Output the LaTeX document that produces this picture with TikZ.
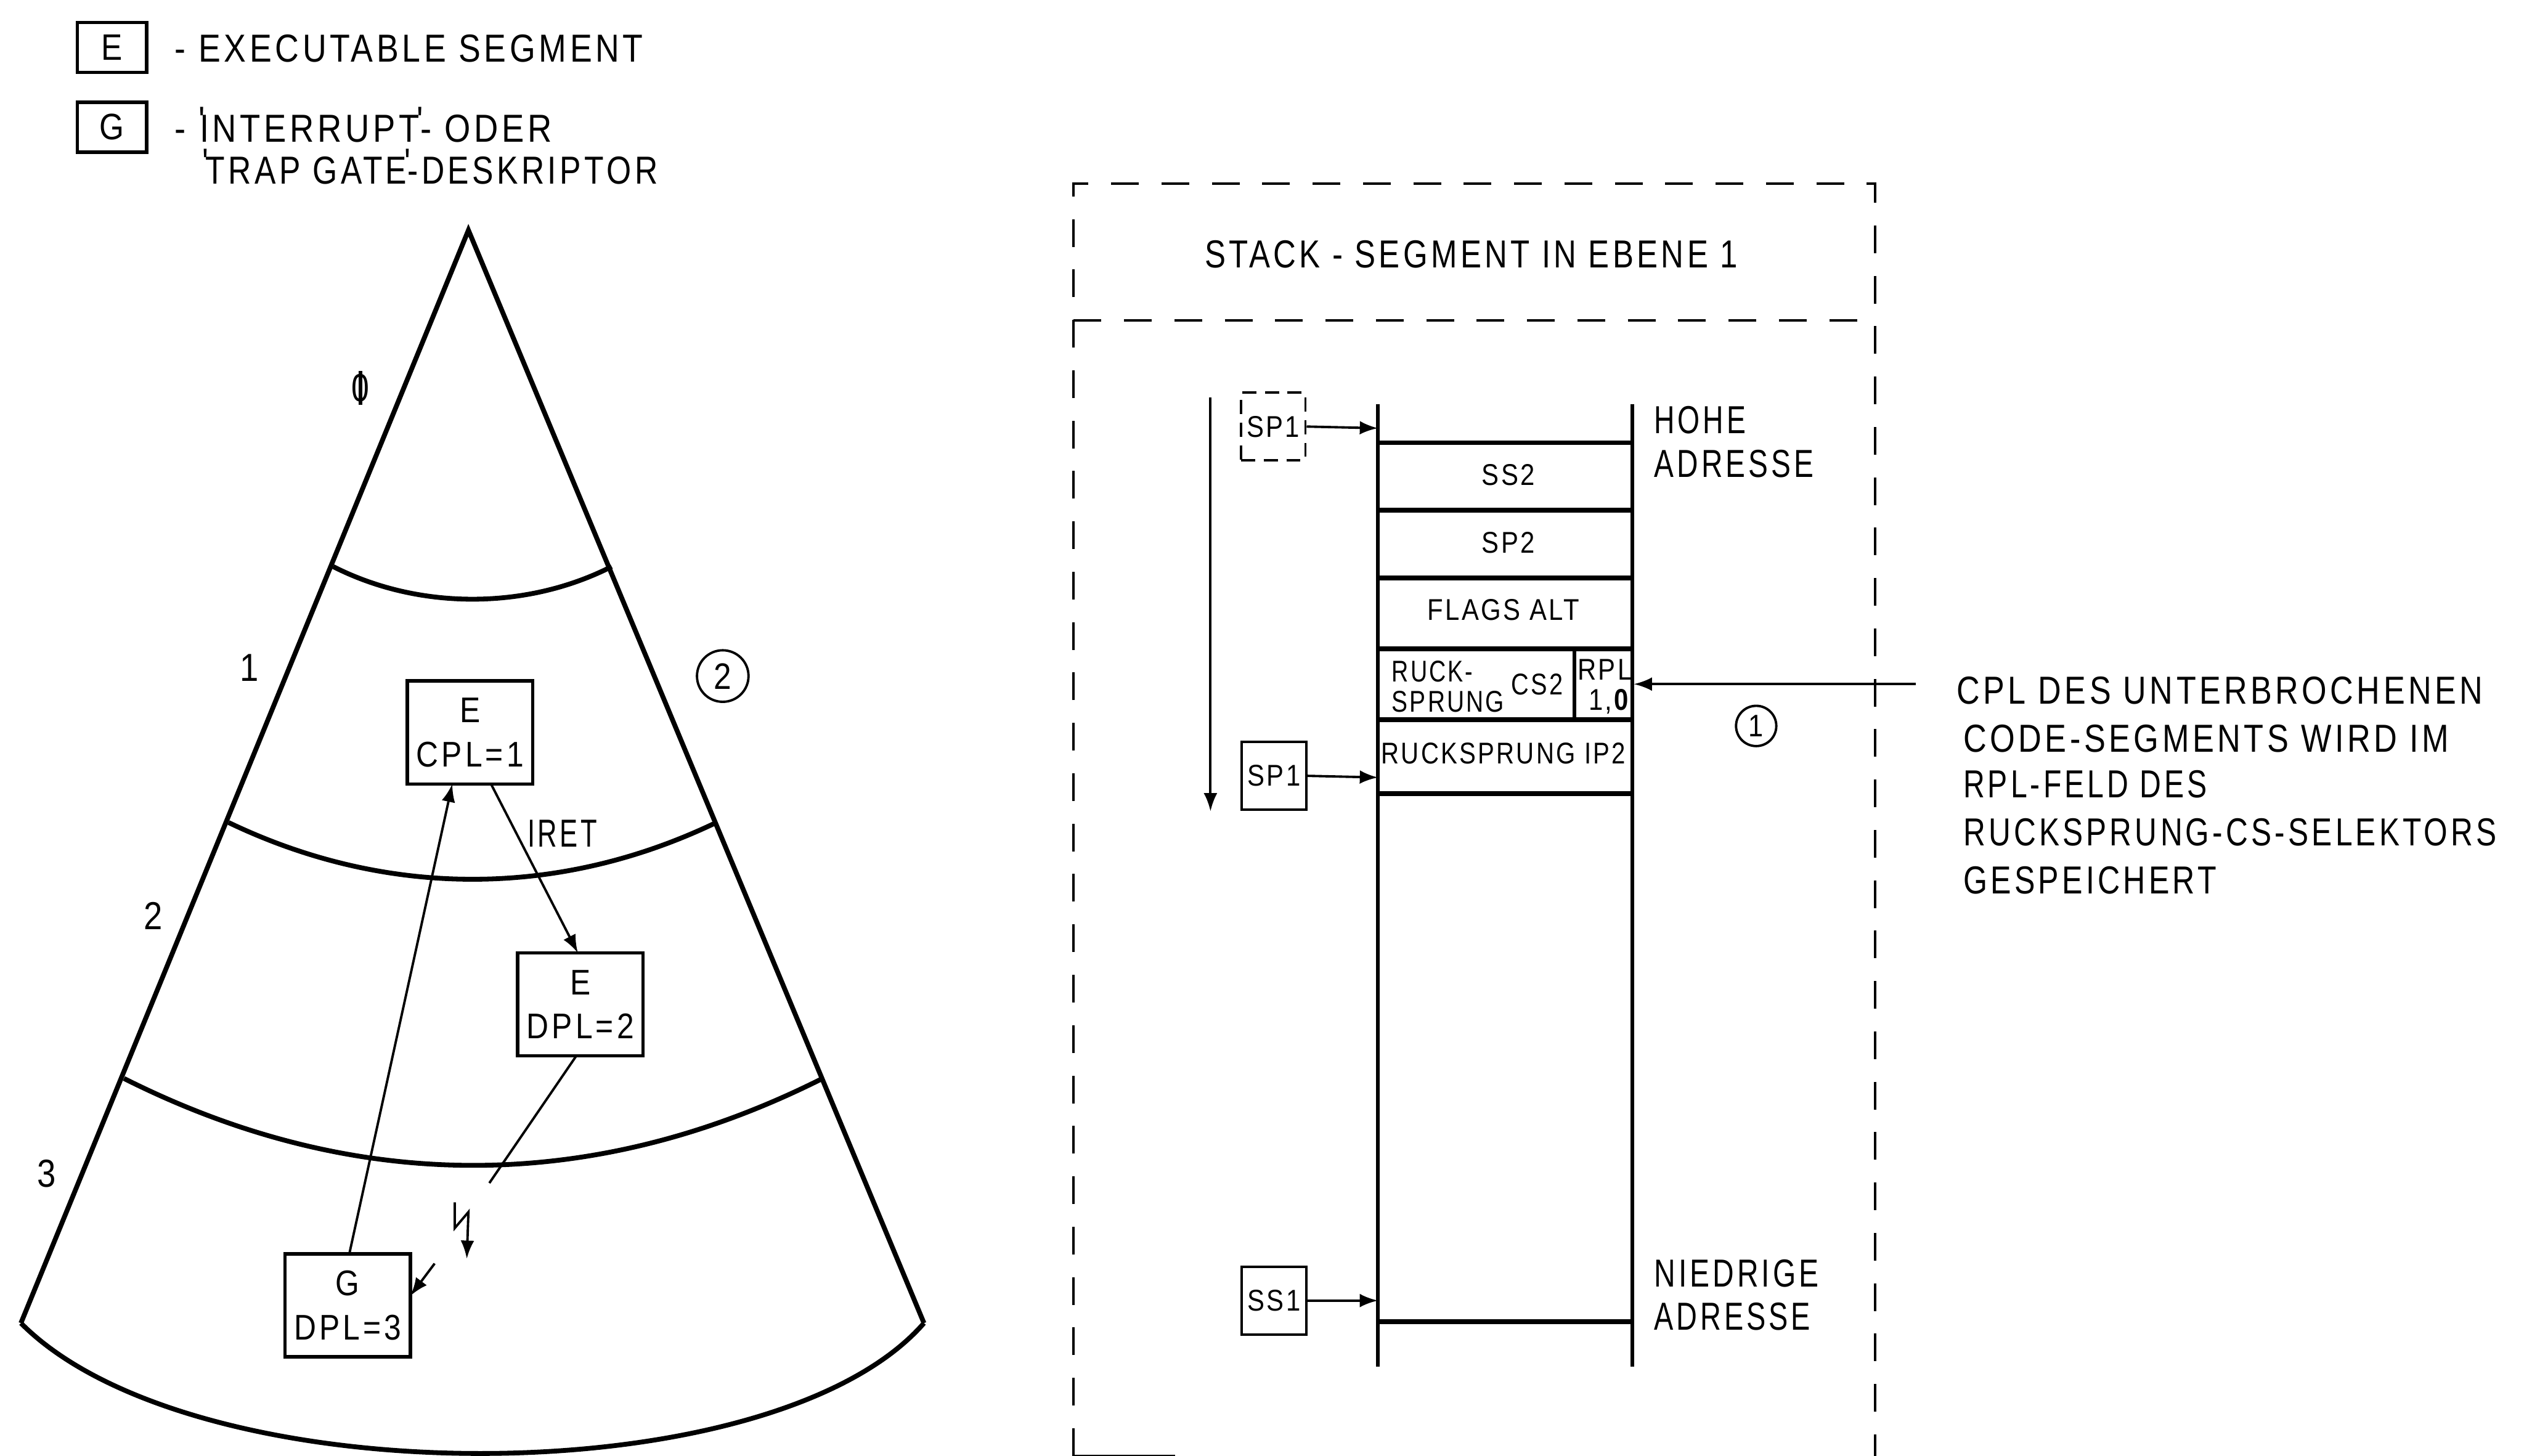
\documentclass[tikz,border=0pt]{standalone}
\usepackage{fontspec}
\usetikzlibrary{arrows.meta}
\setmainfont{Liberation Sans}[FakeStretch=0.86,LetterSpace=9]
\newfontfamily\tinyf{Liberation Sans}[FakeStretch=0.86,LetterSpace=7]
\newfontfamily\plainf{Liberation Sans}[FakeStretch=0.86,LetterSpace=9]
\newcommand{\nar}[2]{\scalebox{#1}[1]{#2}}
\newcommand{\qt}{\raisebox{1.4pt}{'}}
\tikzset{
  thin line/.style={line width=0.42pt,black},
  wall/.style={line width=0.65pt,black},
  rule line/.style={line width=0.85pt,black},
  dash line/.style={line width=0.42pt,black,dash pattern=on 4.9pt off 4pt},
  tip/.style={-{Latex[length=3.2pt,width=2.4pt]}},
  bigtxt/.style={font=\fontsize{6.9}{8}\selectfont,inner sep=0pt,anchor=west},
  lbl/.style={font=\fontsize{6.9}{8}\selectfont,inner sep=0pt},
  smalltxt/.style={font=\tinyf\fontsize{5.3}{6}\selectfont,inner sep=0pt},
  boxA/.style={draw,line width=0.6pt,minimum width=0.78cm,minimum height=0.64cm,align=center,inner sep=0pt,font=\fontsize{6.3}{7.8}\selectfont},
  legendbox/.style={draw,line width=0.6pt,minimum width=0.43cm,minimum height=0.31cm,inner sep=0pt,font=\fontsize{6.5}{8}\selectfont},
  spbox/.style={draw,line width=0.45pt,minimum width=0.4cm,minimum height=0.42cm,inner sep=0pt,font=\tinyf\fontsize{5.3}{6}\selectfont},
  ringmark/.style={draw,circle,line width=0.42pt,inner sep=0pt,font=\fontsize{6.5}{8}\selectfont}
}
\begin{document}
\begin{tikzpicture}[x=0.01cm,y=-0.01cm]
\useasboundingbox (0,0) rectangle (1568,904.5);
% legend
\node[legendbox] (legE) at (69.5,29.5) {E};
\node[legendbox] (legG) at (69.5,79) {G};
\node[bigtxt] (t1) at (108,30) {\nar{0.985}{- EXECUTABLE SEGMENT}};
\node[bigtxt] (t2) at (108,77.5) {\plainf\nar{0.998}{- \qt\kern-1pt INTERRUPT\kern-.5pt\qt\kern-.5pt- ODER}};
\node[bigtxt] (t3) at (125,103.5) {\plainf\nar{0.947}{\qt\kern-.5pt TRAP GATE\kern-.5pt\qt\kern-.5pt-DESKRIPTOR}};
% wedge
\coordinate (apex) at (291,143);
\coordinate (bl) at (13,822);
\coordinate (br) at (574,822);
\draw[rule line,line join=miter] (bl) -- (apex) -- (br);
\draw[rule line] (bl) .. controls (120,930) and (480,930) .. (br);
\draw[rule line] (207,352) .. controls (260,379) and (327,379) .. (380,352);
\draw[rule line] (142,511) .. controls (240,558) and (347,558) .. (445,511);
\draw[rule line] (77,670) .. controls (220,742) and (368,742) .. (511,670);
\node[lbl] (l0) at (224,241) {\nar{0.95}{0}};
\draw[line width=0.6pt] (l0.center) ++(0,-10.5) -- ++(0,21);
\node[lbl] (l1) at (155,415) {1};
\node[lbl] (l2) at (95,569) {2};
\node[lbl] (l3) at (29,729) {3};
\node[ringmark,minimum size=0.32cm] (c2) at (449,420) {2};
% boxes
\node[boxA] (e1) at (292,455) {E\\CPL=1};
\node[boxA] (e2) at (360.5,624) {E\\DPL=2};
\node[boxA] (g3) at (216,811) {G\\DPL=3};
\coordinate (g3top) at (217,779);
\coordinate (e1bot) at (281,487);
\coordinate (e1out) at (305,487);
\coordinate (e2top) at (359,592);
\coordinate (e2bot) at (358,656);
\coordinate (lnA) at (304,735);
\coordinate (lnB) at (270,785);
\coordinate (g3right) at (255,805);
\draw[thin line,tip] (g3top) -- (e1bot);
\draw[thin line,tip] (e1out) -- (e2top);
\draw[thin line] (e2bot) -- (lnA);
\draw[thin line,tip] (lnB) -- (g3right);
\draw[thin line,tip] (282.5,747) -- (282.5,763) -- (291,753) -- (290,782);
\node[bigtxt] (iret) at (327,518) {\nar{0.8}{IRET}};
% dashed frame
\coordinate (fa) at (667,114);
\coordinate (fb) at (1165,114);
\coordinate (fc) at (1165,904.5);
\coordinate (fd) at (667,904.5);
\draw[dash line] (fd) -- (fa) -- (fb) -- (fc);
\draw[dash line] (667,199) -- (1165,199);
\draw[line width=0.42pt] (fd) -- ++(63,0);
\node[lbl] (head) at (914,158) {\nar{0.935}{STACK - SEGMENT IN EBENE 1}};
% stack
\coordinate (wl) at (856,251);
\coordinate (wr) at (1014,251);
\coordinate (wlb) at (856,849);
\coordinate (wrb) at (1014,849);
\draw[wall] (wl) -- (wlb);
\draw[wall] (wr) -- (wrb);
\foreach \yy in {275,317,359,403,447,493,821}
  \draw[rule line] (856,\yy) -- (1014,\yy);
\draw[wall] (978,403) -- (978,447);
\node[smalltxt] (s1) at (937,295) {SS2};
\node[smalltxt] (s2) at (937,337) {SP2};
\node[smalltxt] (s3) at (934,379) {FLAGS ALT};
\node[smalltxt,anchor=west] (s4) at (864,417) {\nar{0.9}{RUCK-}};
\node[smalltxt,anchor=west] (s5) at (864,436) {\nar{0.93}{SPRUNG}};
\node[smalltxt] (s6) at (955,425) {\nar{0.95}{CS2}};
\node[smalltxt] (s7) at (997,416) {RPL};
\node[smalltxt] (s8) at (1000,436) {1,\textbf{0}};
\node[smalltxt] (s9) at (934,468) {\nar{0.96}{RUCKSPRUNG IP2}};
% pointers
\node[spbox,line width=0.42pt,dash pattern=on 2.5pt off 1.5pt] (sp1a) at (791,265) {SP1};
\node[spbox] (sp1b) at (791.5,482) {SP1};
\node[spbox] (ss1) at (791.5,808) {SS1};
\coordinate (pa) at (856,266);
\coordinate (pb) at (856,483);
\coordinate (pc) at (856,808);
\draw[thin line,tip] (sp1a.east) -- (pa);
\draw[thin line,tip] (sp1b.east) -- (pb);
\draw[thin line,tip] (ss1.east) -- (pc);
\coordinate (ga) at (752,247);
\coordinate (gb) at (752,504);
\draw[thin line,tip] (ga) -- (gb);
\node[bigtxt] (h1) at (1027,261) {\nar{0.85}{HOHE}};
\node[bigtxt] (h2) at (1027,288) {\nar{0.877}{ADRESSE}};
\node[bigtxt] (n1) at (1027,791) {\nar{0.88}{NIEDRIGE}};
\node[bigtxt] (n2) at (1027,818) {\nar{0.86}{ADRESSE}};
% note
\coordinate (nt) at (1190,425);
\coordinate (rp) at (1015,425);
\draw[thin line,tip] (nt) -- (rp);
\node[ringmark,minimum size=0.25cm,font=\fontsize{5.5}{6}\selectfont] (c1) at (1091,451) {1};
\node[bigtxt] (m1) at (1215,429) {\nar{0.956}{CPL DES UNTERBROCHENEN}};
\node[bigtxt] (m2) at (1219,459) {\nar{0.96}{CODE-SEGMENTS WIRD IM}};
\node[bigtxt] (m3) at (1219,487) {\nar{0.884}{RPL-FELD DES}};
\node[bigtxt] (m4) at (1219,517) {\nar{0.91}{RUCKSPRUNG-CS-SELEKTORS}};
\node[bigtxt] (m5) at (1219,547) {\nar{0.92}{GESPEICHERT}};
\end{tikzpicture}
\end{document}
